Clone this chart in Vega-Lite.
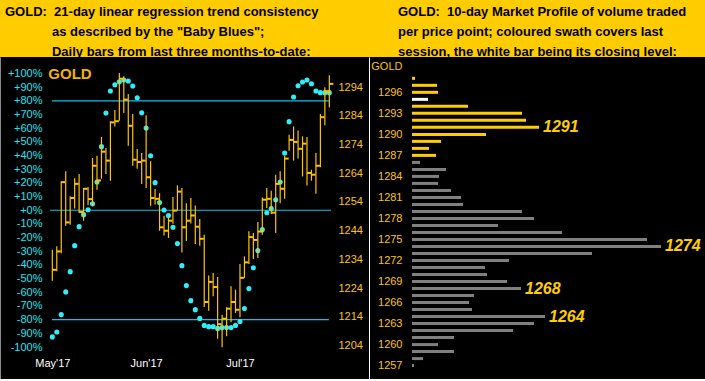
{
  "$schema": "https://vega.github.io/schema/vega-lite/v6.json",
  "background": "#FFCC00",
  "padding": {"left": 0, "right": 0, "top": 6, "bottom": 0},
  "spacing": 0,
  "datasets": {
    "bars": [
      {"day": 1, "high": 1237.4, "low": 1226.6, "close": 1230.4, "trend": -92.6},
      {"day": 2, "high": 1238.6, "low": 1229.9, "close": 1236.8, "trend": -89.0},
      {"day": 3, "high": 1261.2, "low": 1236.2, "close": 1260.9, "trend": -76.3},
      {"day": 4, "high": 1264.7, "low": 1245.7, "close": 1246.9, "trend": -59.7},
      {"day": 5, "high": 1256.0, "low": 1246.1, "close": 1255.4, "trend": -44.9},
      {"day": 6, "high": 1262.3, "low": 1251.7, "close": 1260.3, "trend": -25.9},
      {"day": 7, "high": 1263.7, "low": 1250.2, "close": 1250.5, "trend": -12.0},
      {"day": 8, "high": 1258.9, "low": 1247.5, "close": 1258.6, "trend": -3.2},
      {"day": 9, "high": 1259.2, "low": 1252.9, "close": 1255.0, "trend": 0.4},
      {"day": 10, "high": 1269.3, "low": 1252.5, "close": 1266.6, "trend": 4.8},
      {"day": 11, "high": 1270.1, "low": 1258.3, "close": 1261.5, "trend": 20.7},
      {"day": 12, "high": 1276.6, "low": 1262.1, "close": 1271.5, "trend": 46.5},
      {"day": 13, "high": 1272.8, "low": 1263.7, "close": 1268.4, "trend": 71.1},
      {"day": 14, "high": 1282.1, "low": 1261.4, "close": 1281.7, "trend": 87.2},
      {"day": 15, "high": 1286.0, "low": 1280.3, "close": 1282.1, "trend": 91.8},
      {"day": 16, "high": 1298.9, "low": 1282.3, "close": 1296.9, "trend": 94.0},
      {"day": 17, "high": 1297.7, "low": 1285.0, "close": 1289.6, "trend": 95.2},
      {"day": 18, "high": 1291.6, "low": 1273.6, "close": 1280.5, "trend": 94.5},
      {"day": 19, "high": 1284.6, "low": 1266.6, "close": 1268.7, "trend": 90.9},
      {"day": 20, "high": 1272.4, "low": 1265.6, "close": 1267.9, "trend": 82.3},
      {"day": 21, "high": 1271.0, "low": 1260.3, "close": 1268.4, "trend": 71.3},
      {"day": 22, "high": 1284.2, "low": 1258.9, "close": 1262.6, "trend": 60.2},
      {"day": 23, "high": 1268.2, "low": 1252.7, "close": 1255.4, "trend": 39.9},
      {"day": 24, "high": 1258.5, "low": 1253.1, "close": 1255.1, "trend": 20.2},
      {"day": 25, "high": 1257.1, "low": 1244.0, "close": 1245.2, "trend": 5.6},
      {"day": 26, "high": 1249.2, "low": 1242.3, "close": 1244.0, "trend": 0.2},
      {"day": 27, "high": 1248.8, "low": 1241.5, "close": 1247.5, "trend": -3.8},
      {"day": 28, "high": 1255.7, "low": 1246.4, "close": 1251.0, "trend": -12.4},
      {"day": 29, "high": 1259.8, "low": 1251.0, "close": 1257.6, "trend": -24.4},
      {"day": 30, "high": 1258.9, "low": 1236.4, "close": 1245.2, "trend": -40.5},
      {"day": 31, "high": 1253.6, "low": 1240.4, "close": 1247.5, "trend": -55.1},
      {"day": 32, "high": 1255.4, "low": 1246.5, "close": 1249.3, "trend": -66.1},
      {"day": 33, "high": 1252.8, "low": 1239.4, "close": 1245.4, "trend": -72.7},
      {"day": 34, "high": 1248.1, "low": 1238.8, "close": 1241.2, "trend": -79.1},
      {"day": 35, "high": 1242.6, "low": 1217.5, "close": 1219.2, "trend": -84.2},
      {"day": 36, "high": 1228.4, "low": 1216.2, "close": 1226.2, "trend": -85.1},
      {"day": 37, "high": 1229.3, "low": 1221.2, "close": 1224.4, "trend": -85.1},
      {"day": 38, "high": 1227.9, "low": 1206.4, "close": 1211.5, "trend": -86.4},
      {"day": 39, "high": 1214.8, "low": 1203.5, "close": 1213.4, "trend": -85.8},
      {"day": 40, "high": 1217.4, "low": 1207.3, "close": 1216.9, "trend": -85.8},
      {"day": 41, "high": 1224.7, "low": 1212.2, "close": 1219.2, "trend": -85.8},
      {"day": 42, "high": 1223.5, "low": 1215.4, "close": 1216.5, "trend": -84.2},
      {"day": 43, "high": 1232.4, "low": 1213.9, "close": 1227.6, "trend": -81.4},
      {"day": 44, "high": 1235.1, "low": 1227.6, "close": 1233.0, "trend": -71.9},
      {"day": 45, "high": 1243.8, "low": 1232.4, "close": 1241.8, "trend": -57.3},
      {"day": 46, "high": 1243.2, "low": 1234.2, "close": 1240.8, "trend": -42.0},
      {"day": 47, "high": 1247.0, "low": 1234.5, "close": 1243.7, "trend": -29.5},
      {"day": 48, "high": 1255.6, "low": 1242.6, "close": 1254.8, "trend": -14.2},
      {"day": 49, "high": 1258.9, "low": 1251.9, "close": 1255.1, "trend": -1.8},
      {"day": 50, "high": 1257.9, "low": 1249.8, "close": 1250.3, "trend": 1.3},
      {"day": 51, "high": 1263.5, "low": 1243.2, "close": 1260.3, "trend": 7.7},
      {"day": 52, "high": 1264.7, "low": 1253.6, "close": 1258.6, "trend": 20.7},
      {"day": 53, "high": 1270.1, "low": 1255.1, "close": 1269.1, "trend": 41.9},
      {"day": 54, "high": 1277.4, "low": 1271.8, "close": 1275.6, "trend": 64.8},
      {"day": 55, "high": 1280.3, "low": 1268.4, "close": 1274.9, "trend": 82.8},
      {"day": 56, "high": 1278.9, "low": 1269.1, "close": 1272.5, "trend": 91.1},
      {"day": 57, "high": 1276.8, "low": 1262.9, "close": 1274.3, "trend": 93.8},
      {"day": 58, "high": 1276.6, "low": 1259.7, "close": 1264.1, "trend": 95.2},
      {"day": 59, "high": 1265.2, "low": 1261.4, "close": 1263.5, "trend": 92.5},
      {"day": 60, "high": 1271.0, "low": 1256.9, "close": 1266.6, "trend": 87.2},
      {"day": 61, "high": 1284.6, "low": 1266.1, "close": 1283.5, "trend": 86.0},
      {"day": 62, "high": 1293.9, "low": 1280.7, "close": 1292.5, "trend": 86.0},
      {"day": 63, "high": 1298.1, "low": 1286.9, "close": 1295.1, "trend": 86.0}
    ],
    "levels": [
      {"level": 80, "start": 0.9, "end": 62.9},
      {"level": 0, "start": 0.5, "end": 63.4},
      {"level": -80, "start": 0.9, "end": 62.9}
    ],
    "profile": [
      {"price": 1298, "volume": 3, "session": "last"},
      {"price": 1297, "volume": 25, "session": "last"},
      {"price": 1296, "volume": 26, "session": "last"},
      {"price": 1295, "volume": 16, "session": "close"},
      {"price": 1294, "volume": 56, "session": "last"},
      {"price": 1293, "volume": 110, "session": "last"},
      {"price": 1292, "volume": 114, "session": "last"},
      {"price": 1291, "volume": 127, "session": "last", "peak": true},
      {"price": 1290, "volume": 74, "session": "last"},
      {"price": 1289, "volume": 29, "session": "last"},
      {"price": 1288, "volume": 17, "session": "last"},
      {"price": 1287, "volume": 24, "session": "last"},
      {"price": 1286, "volume": 8, "session": "prior"},
      {"price": 1285, "volume": 34, "session": "prior"},
      {"price": 1284, "volume": 27, "session": "prior"},
      {"price": 1283, "volume": 26, "session": "prior"},
      {"price": 1282, "volume": 39, "session": "prior"},
      {"price": 1281, "volume": 49, "session": "prior"},
      {"price": 1280, "volume": 51, "session": "prior"},
      {"price": 1279, "volume": 110, "session": "prior"},
      {"price": 1278, "volume": 122, "session": "prior"},
      {"price": 1277, "volume": 86, "session": "prior"},
      {"price": 1276, "volume": 150, "session": "prior"},
      {"price": 1275, "volume": 235, "session": "prior"},
      {"price": 1274, "volume": 249, "session": "prior", "peak": true},
      {"price": 1273, "volume": 180, "session": "prior"},
      {"price": 1272, "volume": 97, "session": "prior"},
      {"price": 1271, "volume": 73, "session": "prior"},
      {"price": 1270, "volume": 75, "session": "prior"},
      {"price": 1269, "volume": 95, "session": "prior"},
      {"price": 1268, "volume": 109, "session": "prior", "peak": true},
      {"price": 1267, "volume": 62, "session": "prior"},
      {"price": 1266, "volume": 57, "session": "prior"},
      {"price": 1265, "volume": 60, "session": "prior"},
      {"price": 1264, "volume": 133, "session": "prior", "peak": true},
      {"price": 1263, "volume": 122, "session": "prior"},
      {"price": 1262, "volume": 101, "session": "prior"},
      {"price": 1261, "volume": 42, "session": "prior"},
      {"price": 1260, "volume": 26, "session": "prior"},
      {"price": 1259, "volume": 42, "session": "prior"},
      {"price": 1258, "volume": 11, "session": "prior"},
      {"price": 1257, "volume": 2, "session": "prior"}
    ]
  },
  "hconcat": [
    {
      "width": 369,
      "height": 322,
      "title": {
        "text": [
          "GOLD:\u00a0 21-day linear regression trend consistency",
          "\u200b\u00a0\u00a0\u00a0\u00a0\u00a0\u00a0\u00a0\u00a0\u00a0\u00a0\u00a0\u00a0\u00a0as described by the \"Baby Blues\";",
          "\u200b\u00a0\u00a0\u00a0\u00a0\u00a0\u00a0\u00a0\u00a0\u00a0\u00a0\u00a0\u00a0\u00a0Daily bars from last three months-to-date:"
        ],
        "dx": 5
      },
      "layer": [
        {
          "layer": [
            {
              "data": {"name": "levels"},
              "mark": {"type": "rule", "color": "#14BEF0", "strokeWidth": 1.2},
              "encoding": {
                "x": {"field": "start", "type": "quantitative", "title": null, "scale": {"domain": [-10.71, 71.88], "nice": false, "zero": false}},
                "x2": {"field": "end"},
                "y": {"field": "level", "type": "quantitative", "title": null, "scale": {"domain": [-123.4, 112.07], "nice": false, "zero": false}}
              }
            },
            {
              "data": {"name": "bars"},
              "mark": {"type": "point", "shape": "circle", "filled": true, "size": 26, "color": "#2EEEF8", "opacity": 1},
              "encoding": {
                "x": {
                  "field": "day", "type": "quantitative", "title": null,
                  "scale": {"domain": [-10.71, 71.88], "nice": false, "zero": false},
                  "axis": {
                    "orient": "bottom", "values": [1, 22, 43], "tickCount": 50, "offset": -22, "labelPadding": 0, "labelOverlap": false,
                    "labelExpr": "datum.value == 1 ? \"May'17\" : datum.value == 22 ? \"Jun'17\" : \"Jul'17\"",
                    "labelColor": "#FFFFFF", "labelFontSize": 11
                  }
                },
                "y": {
                  "field": "trend", "type": "quantitative", "title": null,
                  "scale": {"domain": [-123.4, 112.07], "nice": false, "zero": false},
                  "axis": {
                    "orient": "left", "labelPadding": -42, "labelOverlap": false, "tickCount": 50,
                    "values": [-100, -90, -80, -70, -60, -50, -40, -30, -20, -10, 0, 10, 20, 30, 40, 50, 60, 70, 80, 90, 100],
                    "labelExpr": "(datum.value >= 0 ? '+' : '') + datum.value + '%'",
                    "labelColor": "#22E4F2", "labelFontSize": 11,
                    "domain": true, "domainColor": "#8a8a8a", "domainWidth": 1
                  }
                }
              }
            },
            {
              "data": {"name": "bars"},
              "transform": [{"filter": "datum.day == 1"}],
              "mark": {"type": "text", "text": "GOLD", "align": "left", "baseline": "middle", "font": "'Liberation Sans Narrow', 'Liberation Sans', sans-serif", "fontSize": 15, "fontWeight": "bold", "color": "#F2B200"},
              "encoding": {
                "x": {"datum": 0.1, "type": "quantitative", "title": null},
                "y": {"datum": 100, "type": "quantitative", "title": null}
              }
            }
          ]
        },
        {
          "data": {"name": "bars"},
          "layer": [
            {
              "mark": {"type": "rule", "color": "#FFC400", "strokeWidth": 1.2},
              "encoding": {
                "x": {"field": "day", "type": "quantitative", "title": null, "scale": {"domain": [-10.71, 71.88], "nice": false, "zero": false}},
                "y": {
                  "field": "low", "type": "quantitative", "title": null,
                  "scale": {"domain": [1192.42, 1304.44], "nice": false, "zero": false},
                  "axis": {
                    "orient": "right", "labelPadding": -31, "labelOverlap": false, "format": "d", "tickCount": 50,
                    "values": [1204, 1214, 1224, 1234, 1244, 1254, 1264, 1274, 1284, 1294],
                    "labelColor": "#FFC400", "labelAlign": "left", "labelFontSize": 11
                  }
                },
                "y2": {"field": "high"}
              }
            },
            {
              "mark": {"type": "rule", "color": "#FFC400", "strokeWidth": 2, "x2Offset": 4},
              "encoding": {
                "x": {"field": "day", "type": "quantitative", "title": null},
                "x2": {"field": "day"},
                "y": {"field": "close", "type": "quantitative", "title": null}
              }
            }
          ]
        }
      ],
      "resolve": {"scale": {"y": "independent"}}
    },
    {
      "width": 336,
      "height": 322,
      "title": {
        "text": [
          "GOLD:\u00a0 10-day Market Profile of volume traded",
          "per price point; coloured swath covers last",
          "session, the white bar being its closing level:"
        ],
        "dx": 29
      },
      "data": {"name": "profile"},
      "layer": [
        {
          "mark": {"type": "bar", "orient": "horizontal", "height": 3},
          "encoding": {
            "y": {
              "field": "price", "type": "quantitative",
              "scale": {"domain": [1255.8, 1300.33], "nice": false, "zero": false},
              "axis": {
                "orient": "left", "labelOverlap": false, "format": "d", "tickCount": 50,
                "values": [1257, 1260, 1263, 1266, 1269, 1272, 1275, 1278, 1281, 1284, 1287, 1290, 1293, 1296],
                "labelColor": "#FFC400", "labelPadding": -33, "labelFontSize": 11,
                "domain": true, "domainColor": "#FFFFFF", "domainWidth": 1,
                "title": "GOLD", "titleAngle": 0, "titleColor": "#FFC400", "titleFont": "Liberation Sans",
                "titleFontSize": 11, "titleFontWeight": "normal", "titleAlign": "right", "titleBaseline": "middle",
                "titleX": 33, "titleY": 9.5
              }
            },
            "x": {"field": "volume", "type": "quantitative", "title": null, "stack": null, "scale": {"domain": [-43, 293], "nice": false, "zero": false}, "axis": null},
            "x2": {"datum": 0},
            "color": {"field": "session", "type": "nominal", "scale": {"domain": ["prior", "last", "close"], "range": ["#808080", "#FFCC00", "#FFFFFF"]}, "legend": null}
          }
        },
        {
          "transform": [{"filter": "datum.peak"}],
          "mark": {"type": "text", "align": "left", "baseline": "middle", "dx": 4, "font": "'Liberation Sans Narrow', 'Liberation Sans', sans-serif", "fontSize": 16, "fontWeight": "bold", "fontStyle": "italic", "color": "#FFCC00"},
          "encoding": {
            "y": {"field": "price", "type": "quantitative", "title": "GOLD"},
            "x": {"field": "volume", "type": "quantitative", "title": null, "axis": null},
            "text": {"field": "price", "type": "quantitative", "format": "d"}
          }
        }
      ]
    }
  ],
  "config": {
    "view": {"fill": "#000000", "stroke": null},
    "axis": {"grid": false, "ticks": false, "tickSize": 0, "domain": false, "labelFont": "Liberation Sans", "labelOverlap": false, "labelFlush": false, "zindex": 1},
    "title": {"font": "Liberation Sans", "fontSize": 13, "fontWeight": "bold", "color": "#000000", "anchor": "start", "frame": "group", "lineHeight": 20, "offset": -2, "baseline": "top"}
  }
}
